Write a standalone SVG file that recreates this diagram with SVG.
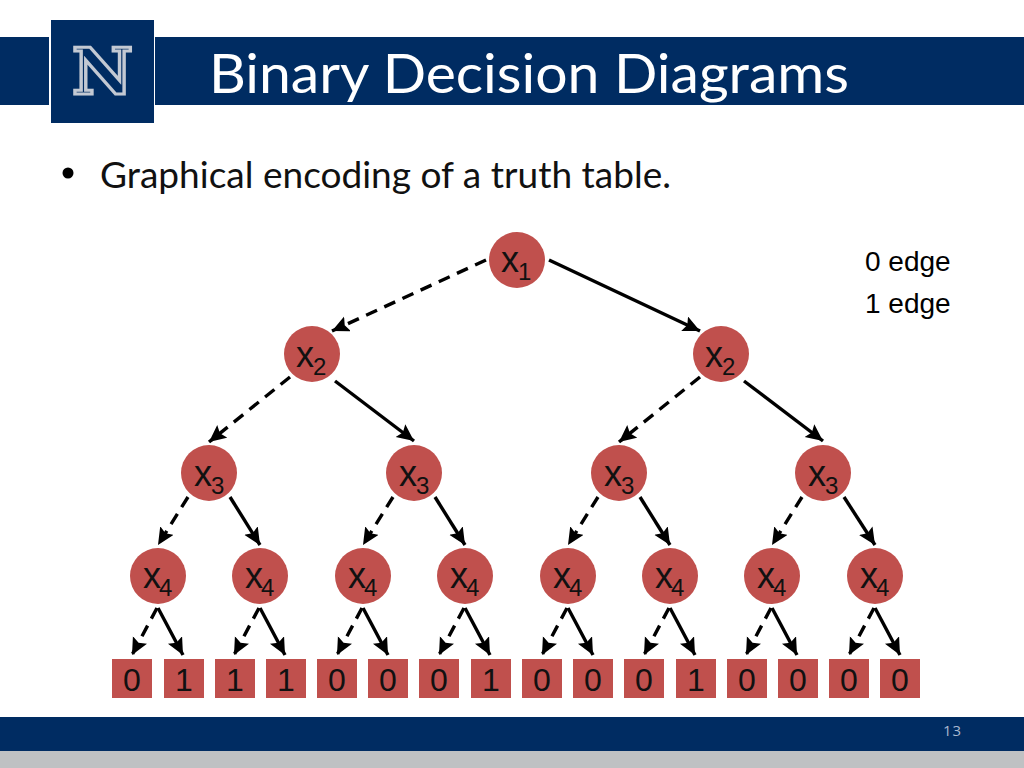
<svg xmlns="http://www.w3.org/2000/svg" width="1024" height="768" viewBox="0 0 1024 768">
<defs>
<marker id="arrow" markerUnits="userSpaceOnUse" markerWidth="20" markerHeight="18" refX="17" refY="8" orient="auto"><path d="M0,0 L17,8 L0,16 L3,8 Z" fill="#000"/></marker>
</defs>
<style>
.bar{fill:#002c62}
.n circle,.n rect{fill:#c0504d}
.v{font-family:"Liberation Sans",Arial,sans-serif;font-size:36px;fill:#111}
.s{font-family:"Liberation Sans",Arial,sans-serif;font-size:24px;fill:#111}
.leaf{font-family:"Liberation Sans",Arial,sans-serif;font-size:32px;fill:#111;text-anchor:middle}
.lg{font-family:"Liberation Sans",Arial,sans-serif;font-size:28px;fill:#000}
.c line{stroke:#000;stroke-width:3.4;fill:none;marker-end:url(#arrow)}
.c .d{stroke-dasharray:12 8}
</style>
<rect width="1024" height="768" fill="#fff"/>
<g id="header">
<rect class="bar" x="0" y="37" width="49" height="68"/>
<rect class="bar" x="155" y="37" width="869" height="68"/>
<rect class="bar" x="51" y="20" width="103" height="103"/>
<text x="72" y="94" font-family="DejaVu Serif,serif" font-weight="700" font-size="63" textLength="61" lengthAdjust="spacingAndGlyphs" fill="#002c62" stroke="#c3c9d3" stroke-width="3.2">N</text>
<text x="209" y="93" font-family="Lato,sans-serif" font-size="54" fill="#fff" textLength="640" lengthAdjust="spacingAndGlyphs">Binary Decision Diagrams</text>
</g>
<g id="bullet">
<circle cx="68" cy="173" r="5.5" fill="#000"/>
<text x="100" y="188" font-family="Lato,sans-serif" font-size="36" fill="#111" textLength="571" lengthAdjust="spacingAndGlyphs">Graphical encoding of a truth table.</text>
</g>
<g id="legend">
<text class="lg" x="865" y="271">0 edge</text>
<text class="lg" x="865" y="313">1 edge</text>
</g>
<g id="connectors" class="c">
<line class="d" x1="486" y1="260" x2="332" y2="331"/>
<line x1="549" y1="260" x2="700" y2="331"/>
<line class="d" x1="290" y1="377" x2="209" y2="442"/>
<line x1="335" y1="381" x2="414" y2="441"/>
<line class="d" x1="700" y1="377" x2="619" y2="442"/>
<line x1="744" y1="381" x2="823" y2="441"/>
<line class="d" x1="188" y1="497" x2="158" y2="545"/>
<line x1="230" y1="497" x2="260" y2="545"/>
<line class="d" x1="393" y1="497" x2="363" y2="545"/>
<line x1="435" y1="497" x2="465" y2="545"/>
<line class="d" x1="598" y1="497" x2="568" y2="545"/>
<line x1="640" y1="497" x2="670" y2="545"/>
<line class="d" x1="802" y1="497" x2="772" y2="545"/>
<line x1="844" y1="497" x2="875" y2="545"/>
<line class="d" x1="157" y1="608" x2="132" y2="655"/>
<line x1="158" y1="608" x2="183" y2="655"/>
<line class="d" x1="259" y1="608" x2="234" y2="655"/>
<line x1="260" y1="608" x2="285" y2="655"/>
<line class="d" x1="362" y1="608" x2="337" y2="655"/>
<line x1="363" y1="608" x2="388" y2="655"/>
<line class="d" x1="464" y1="608" x2="439" y2="655"/>
<line x1="465" y1="608" x2="490" y2="655"/>
<line class="d" x1="567" y1="608" x2="542" y2="655"/>
<line x1="568" y1="608" x2="593" y2="655"/>
<line class="d" x1="669" y1="608" x2="644" y2="655"/>
<line x1="670" y1="608" x2="695" y2="655"/>
<line class="d" x1="771" y1="608" x2="746" y2="655"/>
<line x1="772" y1="608" x2="797" y2="655"/>
<line class="d" x1="874" y1="608" x2="849" y2="655"/>
<line x1="875" y1="608" x2="900" y2="655"/>
</g>
<g id="x1" class="n"><circle cx="517" cy="260" r="28"/><text class="v" x="501" y="272">x</text><text class="s" x="518" y="280">1</text></g>
<g id="x2a" class="n"><circle cx="312" cy="354" r="28"/><text class="v" x="296" y="367">x</text><text class="s" x="313" y="375">2</text></g>
<g id="x2b" class="n"><circle cx="721" cy="354" r="28"/><text class="v" x="705" y="367">x</text><text class="s" x="722" y="375">2</text></g>
<g id="x3a" class="n"><circle cx="209" cy="473" r="28"/><text class="v" x="194" y="486">x</text><text class="s" x="211" y="494">3</text></g>
<g id="x3b" class="n"><circle cx="414" cy="473" r="28"/><text class="v" x="399" y="486">x</text><text class="s" x="416" y="494">3</text></g>
<g id="x3c" class="n"><circle cx="619" cy="473" r="28"/><text class="v" x="604" y="486">x</text><text class="s" x="621" y="494">3</text></g>
<g id="x3d" class="n"><circle cx="823" cy="473" r="28"/><text class="v" x="808" y="486">x</text><text class="s" x="825" y="494">3</text></g>
<g id="x4a" class="n"><circle cx="158" cy="576" r="28"/><text class="v" x="143" y="588">x</text><text class="s" x="159" y="596">4</text></g>
<g id="x4b" class="n"><circle cx="260" cy="576" r="28"/><text class="v" x="245" y="588">x</text><text class="s" x="261" y="596">4</text></g>
<g id="x4c" class="n"><circle cx="363" cy="576" r="28"/><text class="v" x="348" y="588">x</text><text class="s" x="364" y="596">4</text></g>
<g id="x4d" class="n"><circle cx="465" cy="576" r="28"/><text class="v" x="450" y="588">x</text><text class="s" x="466" y="596">4</text></g>
<g id="x4e" class="n"><circle cx="568" cy="576" r="28"/><text class="v" x="553" y="588">x</text><text class="s" x="569" y="596">4</text></g>
<g id="x4f" class="n"><circle cx="670" cy="576" r="28"/><text class="v" x="655" y="588">x</text><text class="s" x="671" y="596">4</text></g>
<g id="x4g" class="n"><circle cx="772" cy="576" r="28"/><text class="v" x="757" y="588">x</text><text class="s" x="773" y="596">4</text></g>
<g id="x4h" class="n"><circle cx="875" cy="576" r="28"/><text class="v" x="860" y="588">x</text><text class="s" x="876" y="596">4</text></g>
<g id="l1" class="n"><rect x="112" y="659" width="40" height="39"/><text class="leaf" x="132" y="691">0</text></g>
<g id="l2" class="n"><rect x="164" y="659" width="40" height="39"/><text class="leaf" x="184" y="691">1</text></g>
<g id="l3" class="n"><rect x="215" y="659" width="40" height="39"/><text class="leaf" x="235" y="691">1</text></g>
<g id="l4" class="n"><rect x="266" y="659" width="40" height="39"/><text class="leaf" x="286" y="691">1</text></g>
<g id="l5" class="n"><rect x="317" y="659" width="40" height="39"/><text class="leaf" x="337" y="691">0</text></g>
<g id="l6" class="n"><rect x="368" y="659" width="40" height="39"/><text class="leaf" x="388" y="691">0</text></g>
<g id="l7" class="n"><rect x="419" y="659" width="40" height="39"/><text class="leaf" x="439" y="691">0</text></g>
<g id="l8" class="n"><rect x="471" y="659" width="40" height="39"/><text class="leaf" x="491" y="691">1</text></g>
<g id="l9" class="n"><rect x="522" y="659" width="40" height="39"/><text class="leaf" x="542" y="691">0</text></g>
<g id="l10" class="n"><rect x="573" y="659" width="40" height="39"/><text class="leaf" x="593" y="691">0</text></g>
<g id="l11" class="n"><rect x="624" y="659" width="40" height="39"/><text class="leaf" x="644" y="691">0</text></g>
<g id="l12" class="n"><rect x="676" y="659" width="40" height="39"/><text class="leaf" x="696" y="691">1</text></g>
<g id="l13" class="n"><rect x="727" y="659" width="40" height="39"/><text class="leaf" x="747" y="691">0</text></g>
<g id="l14" class="n"><rect x="778" y="659" width="40" height="39"/><text class="leaf" x="798" y="691">0</text></g>
<g id="l15" class="n"><rect x="829" y="659" width="40" height="39"/><text class="leaf" x="849" y="691">0</text></g>
<g id="l16" class="n"><rect x="880" y="659" width="40" height="39"/><text class="leaf" x="900" y="691">0</text></g>
<g id="footer">
<rect class="bar" x="0" y="717" width="1024" height="34"/>
<rect x="0" y="751" width="1024" height="17" fill="#bfc1c3"/>
<text x="943" y="736" font-family="Open Sans,sans-serif" font-size="15" fill="#a8b8d0" letter-spacing="1">13</text>
</g>
</svg>
